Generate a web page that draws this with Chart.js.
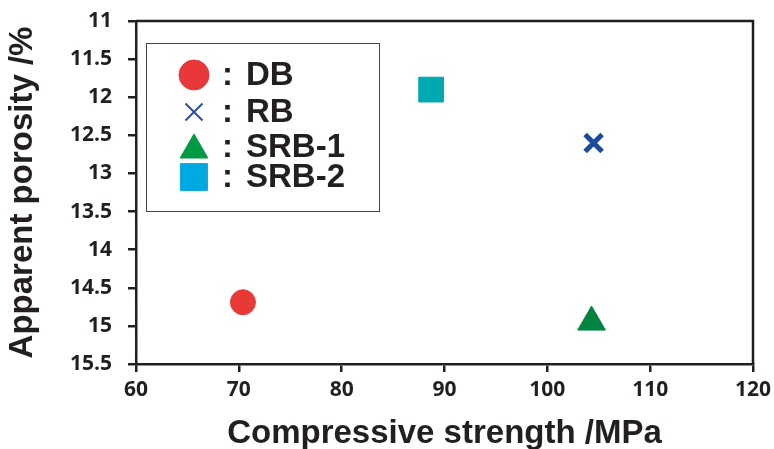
<!DOCTYPE html>
<html>
<head>
<meta charset="utf-8">
<script src="https://cdn.jsdelivr.net/npm/chart.js@4.4.1/dist/chart.umd.min.js"></script>
<style>
  html, body { margin: 0; padding: 0; background: #fff; }
  #wrap { width: 774px; height: 449px; }
</style>
</head>
<body>
<div id="wrap"><canvas id="chart" width="774" height="449"></canvas></div>
<script>
// values
const seriesNames = ["DB", "RB", "SRB-1", "SRB-2"];
const strength = [70.4, 104.5, 104.3, 88.7];     // MPa
const porosity = [14.69, 12.6, 14.95, 11.9];     // %
const xRange = [60, 120];
const yRange = [11, 15.5];

const ink = "#231f20";
const markers = [
  { style: "circle",   color: "#e83a35", radius: 12.5, border: 1 },
  { style: "crossRot", color: "#1d4a9c", radius: 12, border: 5 },
  { style: "triangle", color: "#00843f", radius: 16, border: 1 },
  { style: "rect",     color: "#00a8b0", radius: 17.5, border: 1 }
];
// legend swatches are drawn a bit differently in the original
const legendMarks = [
  { style: "circle",   color: "#e8383a", radius: 15, border: 1 },
  { style: "crossRot", color: "#2a4fa3", radius: 12, border: 2 },
  { style: "triangle", color: "#009944", radius: 16, border: 1 },
  { style: "rect",     color: "#00a9e0", radius: 19, border: 1 }
];

const datasets = seriesNames.map((name, i) => ({
  label: name,
  data: [{ x: strength[i], y: porosity[i] }],
  pointStyle: markers[i].style,
  pointRadius: markers[i].radius,
  pointHoverRadius: markers[i].radius,
  pointBackgroundColor: markers[i].color,
  pointBorderColor: markers[i].color,
  pointBorderWidth: markers[i].border,
  showLine: false
}));

const boxPlugin = {
  id: "box",
  afterDraw(chart) {
    const ctx = chart.ctx;
    const a = chart.chartArea;
    ctx.save();
    ctx.strokeStyle = ink;
    ctx.lineWidth = 2.5;
    ctx.beginPath();
    ctx.moveTo(a.left, a.top);
    ctx.lineTo(a.right, a.top);
    ctx.lineTo(a.right, a.bottom);
    ctx.stroke();

    // legend box
    ctx.lineWidth = 1;
    ctx.strokeStyle = "#444";
    ctx.fillStyle = "#fff";
    ctx.fillRect(146.5, 43.5, 233, 168);
    ctx.strokeRect(146.5, 43.5, 233, 168);

    const rows = [75, 112, 147, 177];
    chart.data.datasets.forEach((ds, i) => {
      const m = legendMarks[i];
      ctx.fillStyle = m.color;
      ctx.strokeStyle = m.color;
      ctx.lineWidth = m.border;
      Chart.helpers.drawPoint(ctx, {
        pointStyle: m.style, radius: m.radius, rotation: 0, borderWidth: m.border
      }, 194, rows[i] + (m.style === "triangle" ? 3 : 0));
      ctx.fillStyle = ink;
      ctx.font = "bold 33px 'Liberation Sans', Arial, sans-serif";
      ctx.textBaseline = "middle";
      ctx.textAlign = "left";
      ctx.fillText(":", 222, rows[i] + 1);
      ctx.fillText(ds.label, 246, rows[i] + 1);
    });
    ctx.restore();
  }
};

const tickFont = { family: "'Open Sans', sans-serif", size: 21, weight: "bold" };
const titleFont = { family: "'Liberation Sans', Arial, sans-serif", size: 33, weight: "bold" };

new Chart(document.getElementById("chart"), {
  type: "scatter",
  data: { datasets },
  options: {
    responsive: false,
    animation: false,
    layout: { padding: { top: 21, right: 21, left: 0, bottom: 0 } },
    plugins: { legend: { display: false }, tooltip: { enabled: false } },
    scales: {
      x: {
        type: "linear",
        min: xRange[0],
        max: xRange[1],
        afterFit: s => { s.height = 85; s.paddingLeft = 0; s.paddingRight = 0; },
        ticks: {
          stepSize: 10,
          color: ink,
          padding: 5,
          font: tickFont
        },
        grid: {
          drawOnChartArea: false,
          drawTicks: true,
          tickLength: 8,
          color: ink,
          lineWidth: 2.5
        },
        border: { color: ink, width: 2.5 },
        title: {
          display: true,
          text: "Compressive strength /MPa",
          color: ink,
          padding: { top: 0, bottom: 2 },
          font: Object.assign({ lineHeight: 0.8 }, titleFont)
        }
      },
      y: {
        type: "linear",
        reverse: true,
        min: yRange[0],
        max: yRange[1],
        afterFit: s => { s.width = 136; s.paddingTop = 0; s.paddingBottom = 0; },
        ticks: {
          stepSize: 0.5,
          color: ink,
          padding: 16,
          font: tickFont,
          callback: v => String(v)
        },
        grid: {
          drawOnChartArea: false,
          drawTicks: true,
          tickLength: 8,
          color: ink,
          lineWidth: 2.5
        },
        border: { color: ink, width: 2.5 },
        title: {
          display: true,
          text: "Apparent porosity /%",
          color: ink,
          padding: { top: 3, bottom: 0 },
          font: titleFont
        }
      }
    }
  },
  plugins: [boxPlugin]
});
</script>
</body>
</html>
